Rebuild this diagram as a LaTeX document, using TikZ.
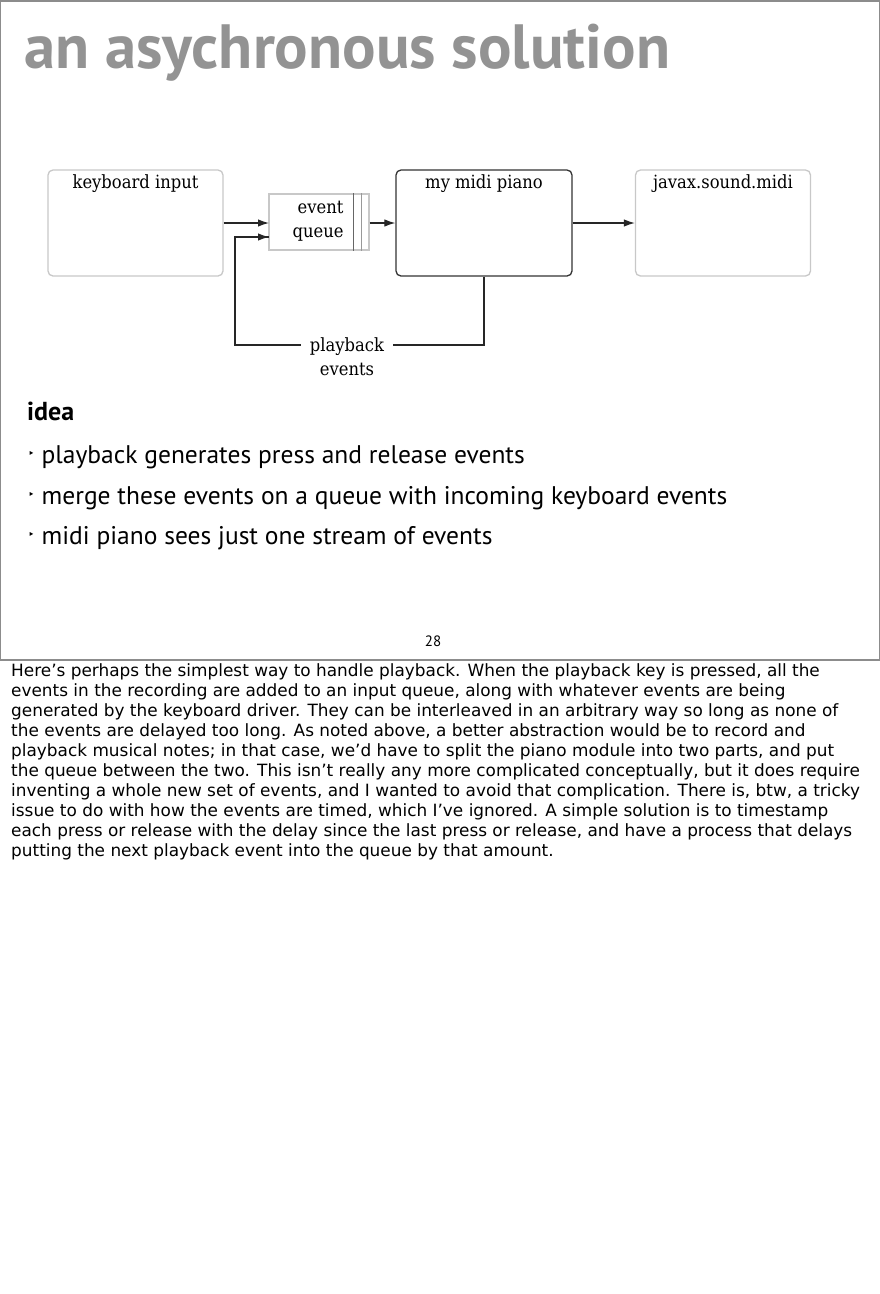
\documentclass[tikz,border=0pt]{standalone}
\usepackage{fontspec}
\setmainfont{DejaVu Serif Condensed}
\newfontfamily\titlefont{PT Sans}
\newfontfamily\slidefont{PT Sans}
\newfontfamily\notesfont{DejaVu Sans}
\usetikzlibrary{arrows.meta}
\definecolor{titlegray}{HTML}{939393}
\definecolor{boxgray}{HTML}{C8C8C8}
\definecolor{boxdark}{HTML}{333333}
\definecolor{framegray}{HTML}{8C8C8C}
\tikzset{
  lightbox/.style={draw=boxgray, line width=1.3pt, rounded corners=5pt, minimum width=175pt, minimum height=106pt, inner sep=0pt},
  darkbox/.style={draw=boxdark, line width=1.3pt, rounded corners=5pt, minimum width=176pt, minimum height=106pt, inner sep=0pt},
  boxlabel/.style={font=\fontsize{18.2}{24}\selectfont, inner sep=0pt},
  arr/.style={draw=black!85, line width=1.2pt, -{Latex[length=11pt,width=7.5pt]}},
  conn/.style={draw=black!85, line width=1.2pt},
  bullettext/.style={font=\slidefont\fontsize{25.5}{25.5}\selectfont, anchor=base west, inner sep=0pt},
}
\newcommand{\tribullet}{{\notesfont\fontsize{11}{11}\selectfont\raisebox{6pt}{‣}}\hspace{7pt}}
\begin{document}
\begin{tikzpicture}[x=1pt,y=-1pt]
\useasboundingbox (0,0) rectangle (880,1294);
\fill[white] (0,0) rectangle (880,1294);
% slide frame
\draw[framegray, line width=1.2pt] (0.6,1) rectangle (879.2,660);
% title
\node[font=\titlefont\bfseries\fontsize{62.5}{62.5}\selectfont, text=titlegray, anchor=base west, inner sep=0pt] (title) at (24,68) {an asychronous solution};
% boxes
\node[lightbox] (kb) at (135.5,223) {};
\node[boxlabel] (kbl) at (135.5,184) {keyboard input};
\node[draw=boxgray, line width=1.1pt, minimum width=100pt, minimum height=56pt, inner sep=0pt] (q) at (319,222) {};
\node[boxlabel, align=right] (ql) at (318,221) {event\\queue};
\draw[black!60, line width=1.1pt] ([xshift=-16pt]q.north east) -- ([xshift=-16pt]q.south east);
\draw[black!40, line width=1.1pt] ([xshift=-8pt]q.north east) -- ([xshift=-8pt]q.south east);
\node[darkbox] (mp) at (484,223) {};
\node[boxlabel] (mpl) at (484,184) {my midi piano};
\node[lightbox] (jx) at (723,223) {};
\node[boxlabel] (jxl) at (723,184) {javax.sound.midi};
% connectors
\coordinate (qtop) at (269,223);
\coordinate (qbot) at (269,237);
\coordinate (corner) at (235,345);
\draw[arr] (kb.east |- qtop) -- (qtop);
\draw[arr] (q.east |- qtop) -- (mp.west |- qtop);
\draw[arr] (mp.east |- qtop) -- (jx.west |- qtop);
\draw[conn] (mp.south) |- (corner) |- (qbot);
\draw[arr] (corner |- qbot) -- (qbot);
\node[boxlabel, fill=white, inner xsep=9pt, inner ysep=2pt, align=center] (pb) at (347,357) {playback\\events};
% idea
\node[font=\slidefont\bfseries\fontsize{26}{26}\selectfont, anchor=base west, inner sep=0pt] (idea) at (27,420) {idea};
\node[bullettext] (b1) at (28,463) {\tribullet playback generates press and release events};
\node[bullettext] (b2) at (28,504) {\tribullet merge these events on a queue with incoming keyboard events};
\node[bullettext] (b3) at (28,544) {\tribullet midi piano sees just one stream of events};
% page number
\node[font=\slidefont\fontsize{15}{15}\selectfont, inner sep=0pt] (pn) at (433,641) {28};
% notes
\node[font=\notesfont\fontsize{16.9}{20}\selectfont, anchor=north west, align=left, inner sep=0pt] (notes) at (11,663) {Here’s perhaps the simplest way to handle playback. When the playback key is pressed, all the\\
events in the recording are added to an input queue, along with whatever events are being\\
generated by the keyboard driver. They can be interleaved in an arbitrary way so long as none of\\
the events are delayed too long. As noted above, a better abstraction would be to record and\\
playback musical notes; in that case, we’d have to split the piano module into two parts, and put\\
the queue between the two. This isn’t really any more complicated conceptually, but it does require\\
inventing a whole new set of events, and I wanted to avoid that complication. There is, btw, a tricky\\
issue to do with how the events are timed, which I’ve ignored. A simple solution is to timestamp\\
each press or release with the delay since the last press or release, and have a process that delays\\
putting the next playback event into the queue by that amount.};
\end{tikzpicture}
\end{document}
